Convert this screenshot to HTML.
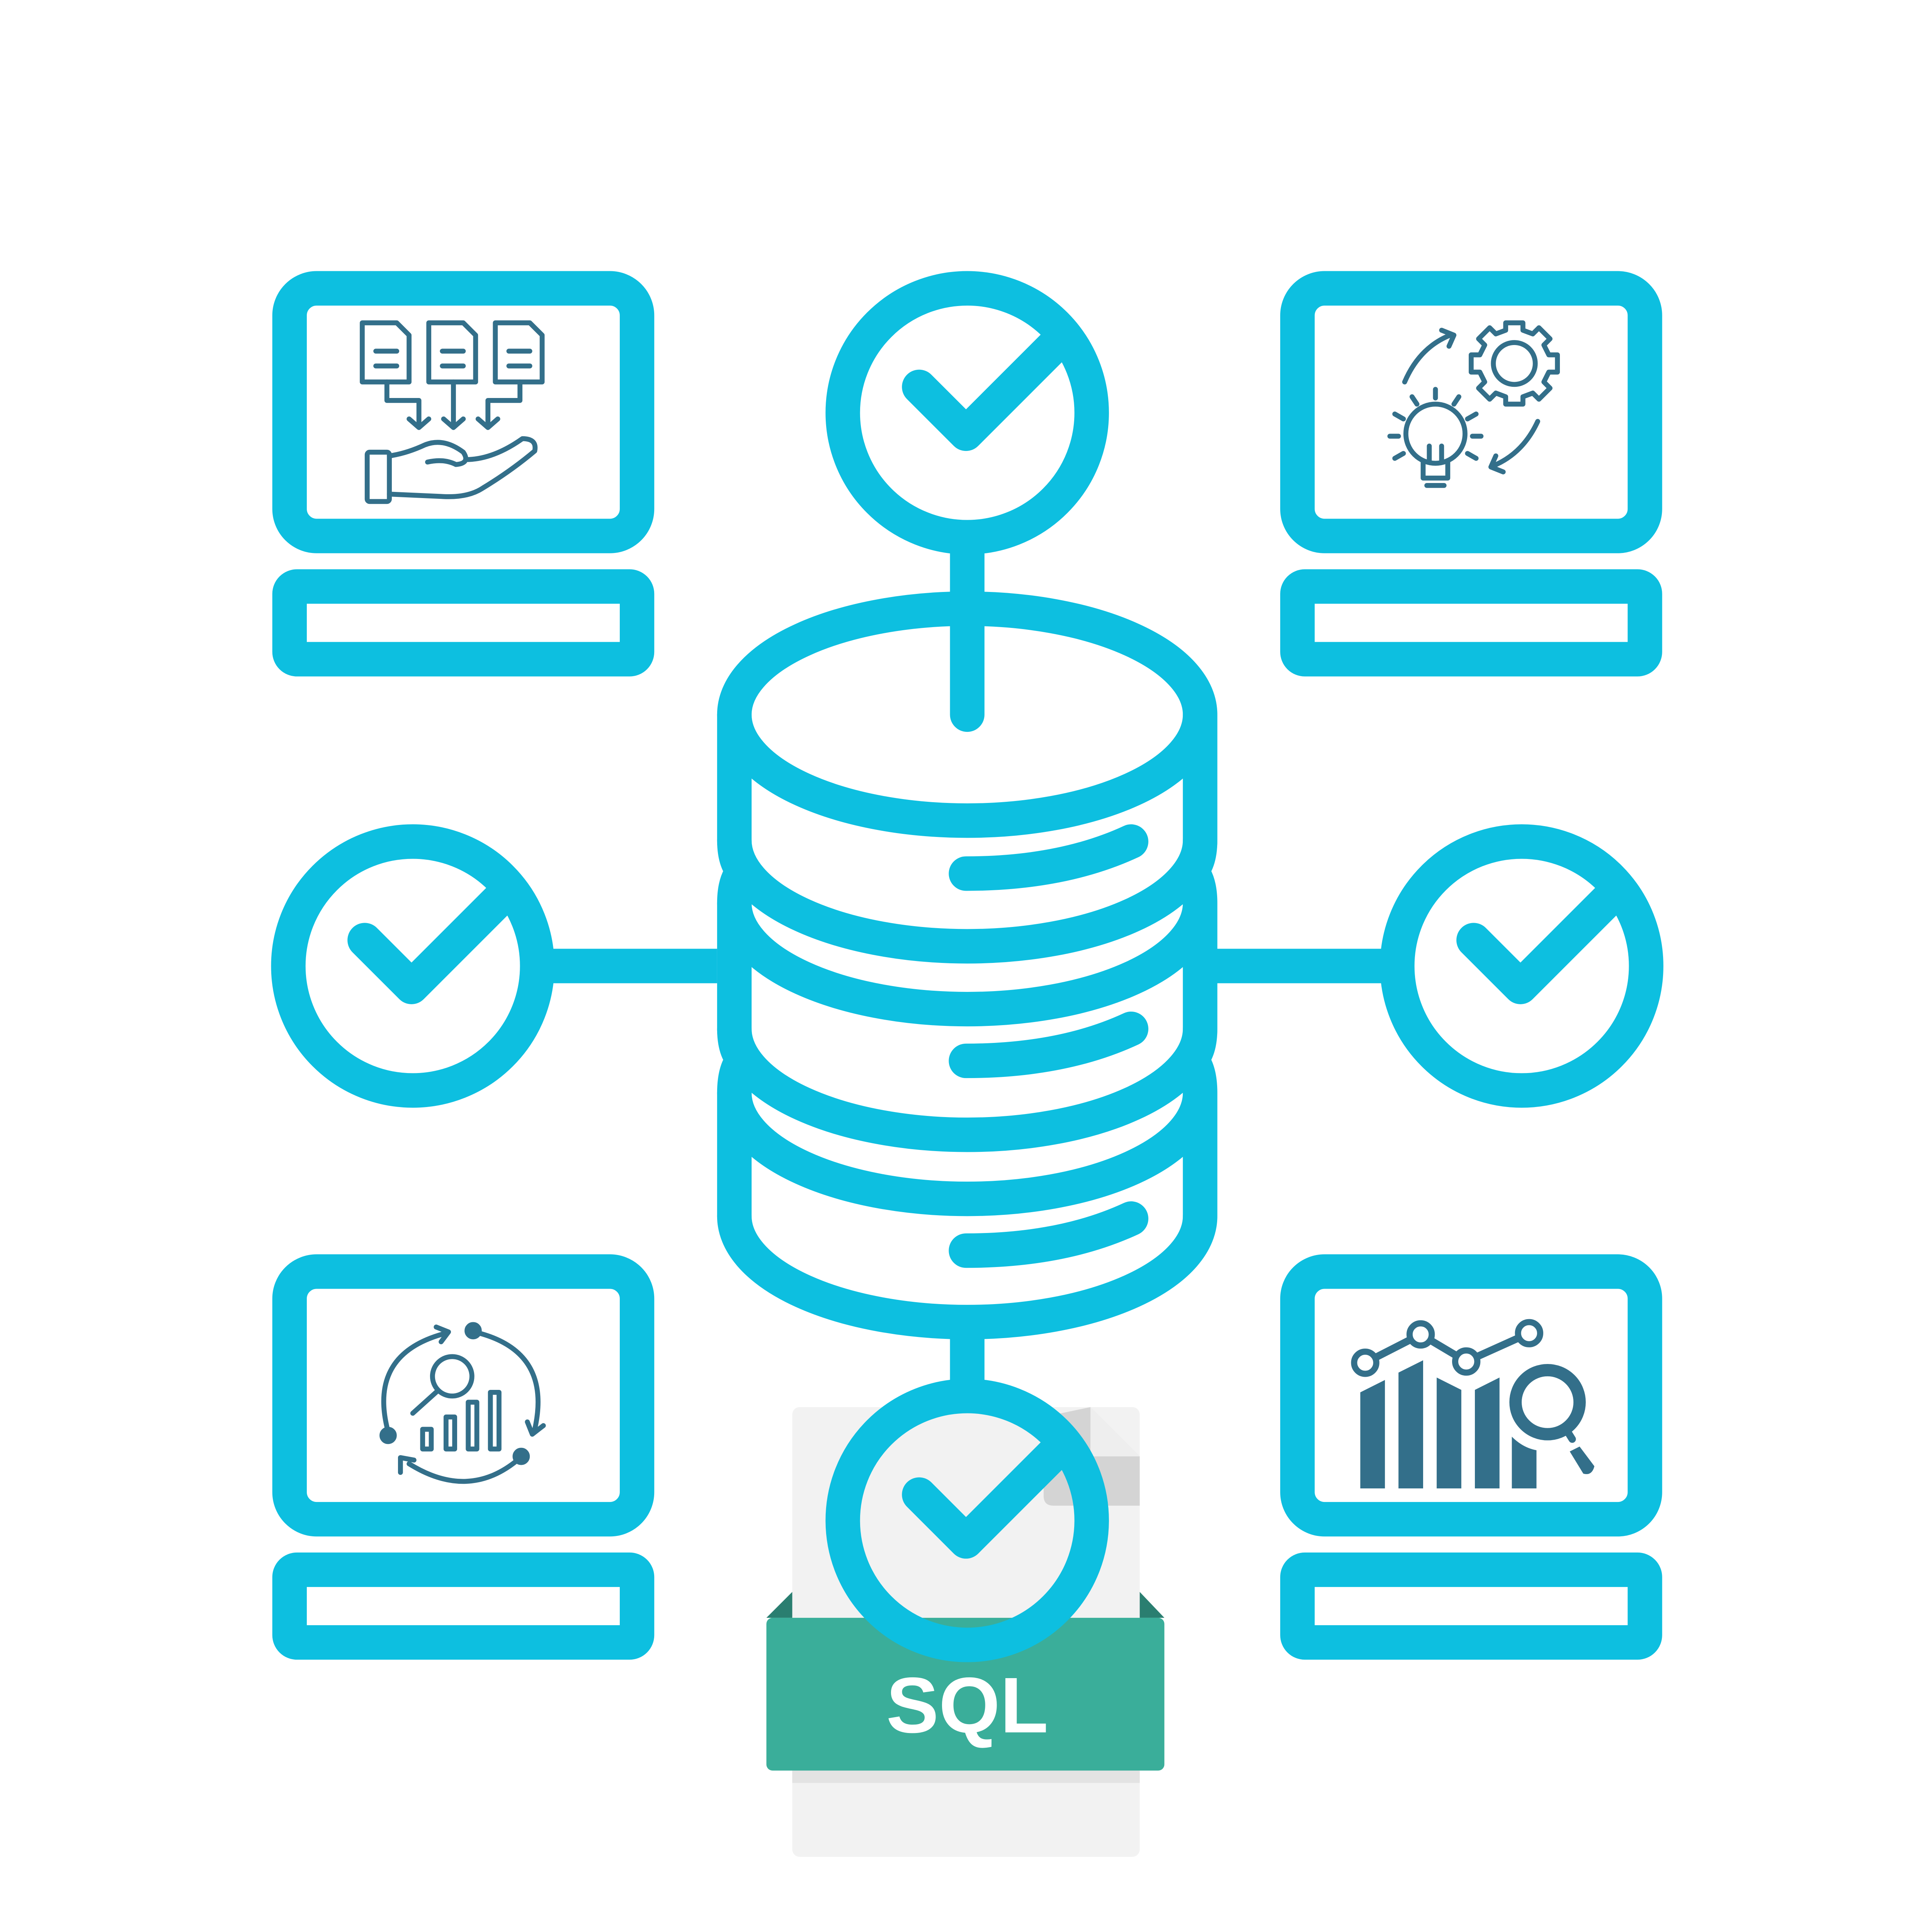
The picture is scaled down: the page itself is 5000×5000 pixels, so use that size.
<!DOCTYPE html>
<html><head><meta charset="utf-8"><style>
html,body{margin:0;padding:0;background:#fff}
svg{display:block}
</style></head><body>
<svg width="5000" height="5000" viewBox="0 0 1568 1568" xmlns="http://www.w3.org/2000/svg">
<rect width="1568" height="1568" fill="#fff"/>
<!-- SQL document -->
<rect x="643" y="1142" width="282" height="365" rx="6" fill="#f2f2f2"/>
<path d="M885 1142 L925 1182 L925 1222 L855 1222 Q847 1222 847 1214 L847 1150 Z" fill="#d4d4d4"/>
<path d="M885 1142 L925 1182 L885 1182 Z" fill="#fff" opacity="0.6"/>
<rect x="643" y="1437" width="282" height="10" fill="#e3e3e3"/>
<path d="M622 1313 L643 1292 L643 1313 Z M945 1313 L925 1292 L925 1313 Z" fill="#2a7e70"/>
<rect x="622" y="1313" width="323" height="124" rx="5" fill="#3aae9a"/>
<text x="785" y="1406" text-anchor="middle" font-family="Liberation Sans, sans-serif" font-weight="bold" font-size="64" fill="#fff">SQL</text>

<g fill="none" stroke="#0DBFE0" stroke-width="28" stroke-linecap="round" stroke-linejoin="round">
<rect x="235" y="234" width="282" height="201" rx="22"/>
<rect x="235" y="476" width="282" height="59" rx="6"/>
<rect x="1053" y="234" width="282" height="201" rx="22"/>
<rect x="1053" y="476" width="282" height="59" rx="6"/>
<rect x="235" y="1032" width="282" height="201" rx="22"/>
<rect x="235" y="1274" width="282" height="59" rx="6"/>
<rect x="1053" y="1032" width="282" height="201" rx="22"/>
<rect x="1053" y="1274" width="282" height="59" rx="6"/>
<line x1="785" y1="440" x2="785" y2="580"/>
<line x1="449" y1="784" x2="582" y2="784" stroke-linecap="butt"/>
<line x1="988" y1="784" x2="1121" y2="784" stroke-linecap="butt"/>
<line x1="785" y1="1086" x2="785" y2="1122" stroke-linecap="butt"/>
<circle cx="785" cy="335" r="101"/>
<circle cx="335" cy="784" r="101"/>
<circle cx="1235" cy="784" r="101"/>
<circle cx="785" cy="1234" r="101"/>
<path d="M746 314 L784 352 L860 276"/>
<path d="M296 763 L334 801 L410 725"/>
<path d="M1196 763 L1234 801 L1310 725"/>
<path d="M746 1213 L784 1251 L860 1175"/>
<ellipse cx="785" cy="580" rx="189" ry="86"/>
<path d="M596 682 A189 86 0 0 0 974 682"/>
<path d="M596 733 A189 86 0 0 0 974 733"/>
<path d="M596 835 A189 86 0 0 0 974 835"/>
<path d="M596 887 A189 86 0 0 0 974 887"/>
<path d="M596 987 A189 86 0 0 0 974 987"/>
<path d="M596 580 L596 682 Q596 700 604 707 Q596 714 596 733 L596 835 Q596 853 604 860 Q596 867 596 887 L596 987"/>
<path d="M974 580 L974 682 Q974 700 966 707 Q974 714 974 733 L974 835 Q974 853 966 860 Q974 867 974 887 L974 987"/>
<path d="M784 709 Q862 709 918 683"/>
<path d="M784 861 Q862 861 918 835"/>
<path d="M784 1015 Q862 1015 918 989"/>
</g>

<g fill="none" stroke="#336f8a" stroke-width="4" stroke-linecap="round" stroke-linejoin="round">
<path d="M294 262 H322 L332 272 V310 H294 Z M305 285 H322 M305 297 H322"/>
<path d="M348 262 H376 L386 272 V310 H348 Z M359 285 H376 M359 297 H376"/>
<path d="M402 262 H430 L440 272 V310 H402 Z M413 285 H430 M413 297 H430"/>
<path d="M314 310 V325 H340 V346 M332 340 L340 347 L348 340"/>
<path d="M368 310 V346 M360 340 L368 347 L376 340"/>
<path d="M422 310 V325 H396 V346 M388 340 L396 347 L404 340"/>
<rect x="298" y="367" width="18" height="40" rx="2"/>
<path d="M316 370 Q330 368 345 361 Q360 355 376 367 Q382 376 370 377 Q360 372 347 375 M378 373 Q400 373 424 356 Q436 356 434 366 Q415 382 392 396 Q380 404 360 403 Q340 402 316 401"/>
<circle cx="1229" cy="295" r="17"/>
<path d="M1222 262 H1236 V268 L1244 271 L1249 266 L1258 275 L1253 280 L1257 288 H1264 V302 H1257 L1253 310 L1258 315 L1249 324 L1244 319 L1236 322 V328 H1222 V322 L1214 319 L1209 324 L1200 315 L1205 310 L1201 302 H1194 V288 H1201 L1205 280 L1200 275 L1209 266 L1214 271 L1222 268 Z"/>
<circle cx="1165" cy="352" r="24"/>
<path d="M1155 375 V388 H1175 V375 M1158 394 H1172 M1160 362 V375 M1170 362 V375"/>
<path d="M1165 316 V323 M1146 322 L1150 328 M1184 322 L1180 328 M1132 336 L1139 340 M1198 336 L1191 340 M1128 354 H1135 M1195 354 H1202 M1132 372 L1139 368 M1198 372 L1191 368"/>
<path d="M1140 310 Q1152 282 1177 272 M1170 268 L1180 272 L1176 281"/>
<path d="M1248 342 Q1236 368 1212 378 M1220 383 L1210 379 L1214 370"/>
<path d="M314 1158 Q300 1098 362 1082 M354 1077 L364 1081 L358 1089"/>
<path d="M389 1082 Q448 1098 434 1160 M428 1154 L432 1164 L441 1157"/>
<path d="M420 1185 Q380 1218 332 1188 M325 1195 L325 1183 L336 1185"/>
<circle cx="315" cy="1165" r="5" fill="#336f8a"/>
<circle cx="384" cy="1080" r="5" fill="#336f8a"/>
<circle cx="423" cy="1182" r="5" fill="#336f8a"/>
<circle cx="367" cy="1117" r="16"/>
<path d="M355 1129 L335 1147"/>
<rect x="343" y="1160" width="7" height="16"/><rect x="362" y="1150" width="7" height="26"/><rect x="380" y="1138" width="7" height="38"/><rect x="398" y="1130" width="7" height="46"/>
</g>
<g fill="#336f8a">
<path d="M1104 1130 L1124 1120 V1208 H1104 Z"/>
<path d="M1135 1114 L1155 1104 V1208 H1135 Z"/>
<path d="M1166 1118 L1186 1128 V1208 H1166 Z"/>
<path d="M1197 1128 L1217 1118 V1208 H1197 Z"/>
<path d="M1227 1166 Q1236 1175 1247 1177 V1208 H1227 Z"/>
<path d="M1274 1178 L1282 1174 L1294 1190 Q1292 1198 1285 1196 Z"/>
</g>
<g fill="none" stroke="#336f8a" stroke-width="6" stroke-linecap="round">
<path d="M1108 1106 L1153 1083 L1190 1105 L1241 1082"/>
<circle cx="1256" cy="1138" r="26" stroke-width="10"/>
<path d="M1271 1160 L1276 1168"/>
</g>
<g fill="#fff" stroke="#336f8a" stroke-width="5">
<circle cx="1108" cy="1106" r="9"/><circle cx="1153" cy="1083" r="9"/><circle cx="1190" cy="1105" r="9"/><circle cx="1241" cy="1082" r="9"/>
</g>
</svg>
</body></html>
